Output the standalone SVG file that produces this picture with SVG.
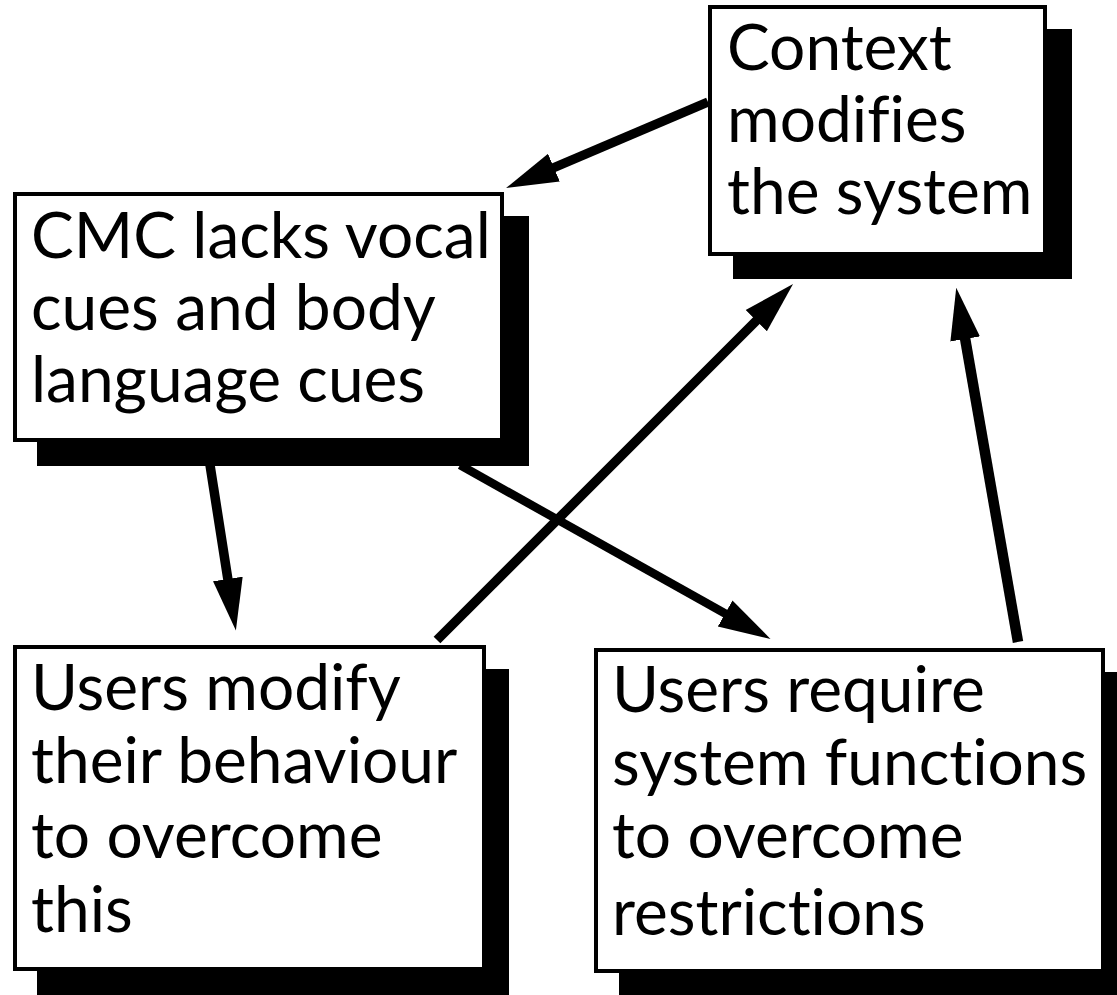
<svg xmlns="http://www.w3.org/2000/svg" width="1117" height="995" viewBox="0 0 1117 995">
<style>
.shadow{fill:#000}
.box{fill:#fff;stroke:#000;stroke-width:4}
.lbl{font-family:Lato,"Noto Sans",sans-serif;font-size:64px;fill:#000;font-variant-ligatures:none}
.conn{stroke:#000;stroke-width:9.5;fill:none;marker-end:url(#ah)}
</style>
<defs>
<marker id="ah" markerUnits="userSpaceOnUse" viewBox="0 -16 53 32" refX="1" refY="0" markerWidth="53" markerHeight="32" orient="auto">
<path d="M0,-15 L52,0 L0,15 Z" fill="#000"/>
</marker>
</defs>
<g id="connectors">
<line class="conn" x1="708" y1="102" x2="553" y2="168"/>
<line class="conn" x1="210" y1="465" x2="228" y2="580"/>
<line class="conn" x1="460" y1="465" x2="726" y2="614" style="stroke-width:8.5"/>
<line class="conn" x1="437" y1="640" x2="757" y2="320"/>
<line class="conn" x1="1018" y1="642" x2="965" y2="338" style="stroke-width:10.5"/>
</g>
<g id="context">
<rect class="shadow" x="733" y="29" width="339" height="250"/>
<rect class="box" x="710" y="7" width="335" height="247"/>
<text class="lbl" x="727" y="70">Context</text>
<text class="lbl" x="727" y="142">modifies</text>
<text class="lbl" x="727" y="214">the system</text>
</g>
<g id="cmc">
<rect class="shadow" x="37" y="216" width="492" height="250"/>
<rect class="box" x="15" y="194" width="487" height="246"/>
<text class="lbl" x="31" y="258">CMC lacks vocal</text>
<text class="lbl" x="31" y="330">cues and body</text>
<text class="lbl" x="31" y="402">language cues</text>
</g>
<g id="users-modify">
<rect class="shadow" x="37" y="669" width="472" height="326"/>
<rect class="box" x="15" y="647" width="469" height="322"/>
<text class="lbl" x="31" y="710">Users modify</text>
<text class="lbl" x="31" y="783">their behaviour</text>
<text class="lbl" x="31" y="858">to overcome</text>
<text class="lbl" x="31" y="932">this</text>
</g>
<g id="users-require">
<rect class="shadow" x="619" y="672" width="498" height="323"/>
<rect class="box" x="596" y="650" width="507" height="321"/>
<text class="lbl" x="612" y="712">Users require</text>
<text class="lbl" x="612" y="785">system functions</text>
<text class="lbl" x="612" y="858">to overcome</text>
<text class="lbl" x="612" y="935">restrictions</text>
</g>
</svg>
